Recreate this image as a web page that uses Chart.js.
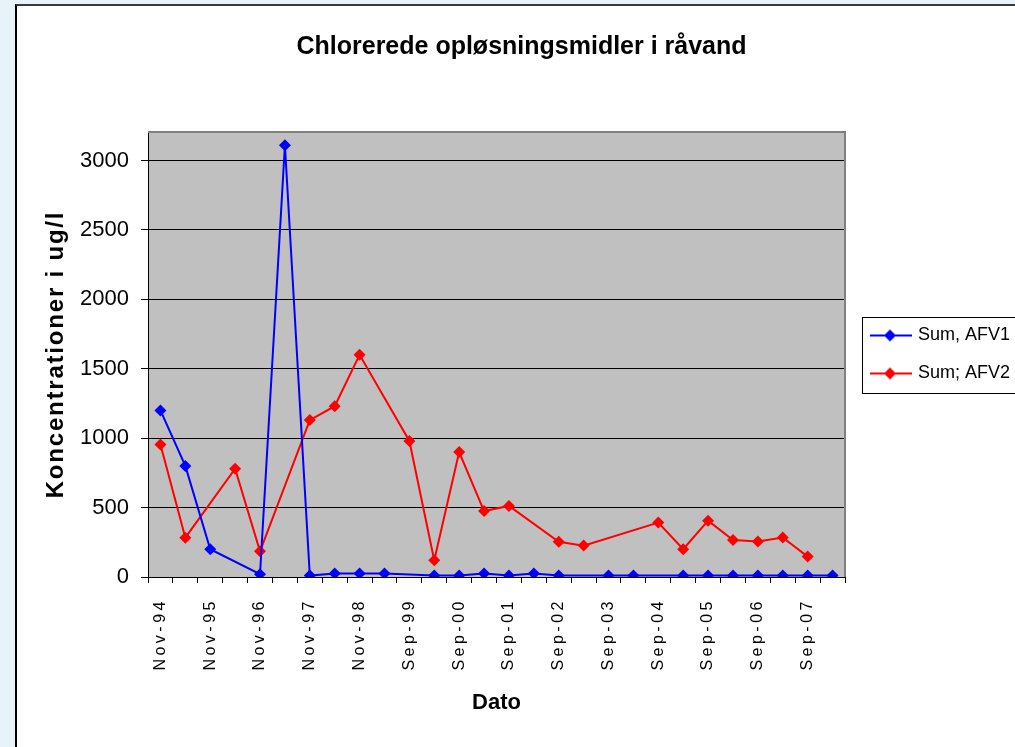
<!DOCTYPE html>
<html>
<head>
<meta charset="utf-8">
<script src="https://cdn.jsdelivr.net/npm/chart.js@4.4.1/dist/chart.umd.min.js"></script>
<style>
  html, body { margin: 0; padding: 0; background: #e8f2f9; }
  body { width: 1015px; height: 747px; overflow: hidden; position: relative; }
  .frame { position: absolute; left: 15px; top: 4px; width: 1010px; height: 760px; background: #fff;
           border-left: 2px solid #000; border-top: 2px solid #3a3a3a; }
  .wrap { position: absolute; left: 0; top: 0; width: 1015px; height: 747px; }
</style>
</head>
<body>
<div class="frame"></div>
<div class="wrap"><canvas id="chart"></canvas></div>
<script>
// sample dates (only every other one is labelled on the axis)
const labels = [
  'Nov-94', 'May-95', 'Nov-95', 'May-96', 'Nov-96', 'May-97', 'Nov-97', 'May-98',
  'Nov-98', 'Mar-99', 'Sep-99', 'Mar-00', 'Sep-00', 'Mar-01', 'Sep-01', 'Mar-02',
  'Sep-02', 'Mar-03', 'Sep-03', 'Mar-04', 'Sep-04', 'Mar-05', 'Sep-05', 'Mar-06',
  'Sep-06', 'Mar-07', 'Sep-07', 'Mar-08'
];

// Sum, AFV1 (ug/l)
const afv1 = [
  1200, 800, 200, null, 20, 3110, 10, 25,
  25, 25, null, 10, 10, 25, 10, 25,
  10, null, 10, 10, null, 10, 10, 10,
  10, 10, 10, 10
];

// Sum; AFV2 (ug/l)
const afv2 = [
  955, 283, null, 780, 185, null, 1130, 1230,
  1600, null, 980, 120, 900, 475, 512, null,
  254, 226, null, null, 392, 200, 406, 267,
  255, 284, 147, null
];

const yTicks = [0, 500, 1000, 1500, 2000, 2500, 3000];
const yMax = 3205;

const FONT = '"Liberation Sans", Arial, sans-serif';

function legendSymbol(color) {
  const c = document.createElement('canvas');
  c.width = 50;
  c.height = 16;
  const g = c.getContext('2d');
  g.strokeStyle = color;
  g.lineWidth = 2;
  g.beginPath();
  g.moveTo(8, 8);
  g.lineTo(50, 8);
  g.stroke();
  g.fillStyle = color;
  g.beginPath();
  g.moveTo(28, 2);
  g.lineTo(34, 8);
  g.lineTo(28, 14);
  g.lineTo(22, 8);
  g.closePath();
  g.fill();
  return c;
}

const colors = ['#0000ff', '#ff0000'];
const symbols = colors.map(legendSymbol);

// grey plot area with thin grey top/right border
const plotBackground = {
  id: 'plotBackground',
  beforeDraw(chart) {
    const {ctx, chartArea: a} = chart;
    ctx.save();
    ctx.fillStyle = '#c0c0c0';
    ctx.fillRect(a.left, a.top, a.right - a.left, a.bottom - a.top);
    ctx.restore();
  },
  beforeDatasetsDraw(chart) {
    const {ctx, chartArea: a} = chart;
    ctx.save();
    ctx.strokeStyle = '#808080';
    ctx.lineWidth = 2;
    ctx.beginPath();
    ctx.moveTo(a.left, a.top);
    ctx.lineTo(a.right, a.top);
    ctx.lineTo(a.right, a.bottom);
    ctx.stroke();
    ctx.restore();
  }
};

// spread-out text for the date labels and the y title
const letterSpacing = {
  id: 'letterSpacing',
  beforeDraw(chart) {
    const wrap = (obj, name, px) => {
      if (!obj || obj['_ls_' + name]) return;
      const orig = obj[name].bind(obj);
      obj[name] = (...args) => {
        const c = chart.ctx;
        const old = c.letterSpacing;
        c.letterSpacing = px;
        orig(...args);
        c.letterSpacing = old;
      };
      obj['_ls_' + name] = true;
    };
    wrap(chart.scales.x, 'drawLabels', '3.5px');
    wrap(chart.scales.y, 'drawTitle', '1.8px');
  }
};

// frame around the legend
const legendFrame = {
  id: 'legendFrame',
  afterDraw(chart) {
    const lg = chart.legend;
    const hb = lg.legendHitBoxes;
    if (!hb || !hb.length) return;
    const last = hb[hb.length - 1];
    const top = hb[0].top - 10;
    const bottom = last.top + last.height + 10;
    const ctx = chart.ctx;
    ctx.save();
    ctx.strokeStyle = '#000';
    ctx.lineWidth = 1;
    ctx.strokeRect(Math.round(lg.left + 17) + 0.5, Math.round(top) + 0.5, lg.width, Math.round(bottom - top));
    ctx.restore();
  }
};

new Chart(document.getElementById('chart'), {
  type: 'line',
  data: {
    labels,
    datasets: [
      {
        label: 'Sum, AFV1',
        data: afv1,
        borderColor: colors[0],
        backgroundColor: colors[0],
        borderWidth: 2,
        pointStyle: 'rectRot',
        pointRadius: 6,
        pointBorderWidth: 0,
        spanGaps: true,
        tension: 0
      },
      {
        label: 'Sum; AFV2',
        data: afv2,
        borderColor: colors[1],
        backgroundColor: colors[1],
        borderWidth: 2,
        pointStyle: 'rectRot',
        pointRadius: 6,
        pointBorderWidth: 0,
        spanGaps: true,
        tension: 0
      }
    ]
  },
  options: {
    responsive: true,
    maintainAspectRatio: false,
    animation: false,
    events: [],
    layout: { padding: { left: 28, right: 0, top: 0, bottom: 0 } },
    plugins: {
      title: {
        display: true,
        text: 'Chlorerede opløsningsmidler i råvand',
        color: '#000',
        font: { family: FONT, size: 25, weight: 'bold' },
        padding: { top: 32, bottom: 70 }
      },
      legend: {
        position: 'right',
        fullSize: false,
        maxWidth: 170,
        labels: {
          color: '#000',
          font: { family: FONT, size: 18 },
          usePointStyle: true,
          pointStyleWidth: 44,
          padding: 20,
          generateLabels(chart) {
            return Chart.defaults.plugins.legend.labels.generateLabels(chart)
              .map(item => ({ ...item, pointStyle: symbols[item.datasetIndex] }));
          }
        }
      },
      tooltip: { enabled: false }
    },
    scales: {
      x: {
        offset: true,
        afterFit(scale) { scale.height = 170; },
        ticks: {
          autoSkip: false,
          minRotation: 90,
          maxRotation: 90,
          padding: 15,
          color: '#000',
          font: { family: FONT, size: 16 },
          callback(value, index) {
            return index % 2 === 0 ? this.getLabelForValue(value) : '';
          }
        },
        grid: { offset: true, drawOnChartArea: false, color: '#000', tickLength: 6 },
        border: { color: '#000', width: 1 },
        title: {
          display: true,
          text: 'Dato',
          color: '#000',
          font: { family: FONT, size: 22, weight: 'bold' },
          padding: { top: 0, bottom: 31 }
        }
      },
      y: {
        min: 0,
        max: yMax,
        afterFit(scale) { scale.width = 120; },
        afterBuildTicks(scale) {
          scale.ticks = yTicks.map(v => ({ value: v }));
        },
        ticks: {
          autoSkip: false,
          padding: 12,
          color: '#000',
          font: { family: FONT, size: 22 },
          callback: value => String(value)
        },
        grid: { color: '#000', tickLength: 7 },
        border: { color: '#000', width: 1 },
        title: {
          display: true,
          text: 'Koncentrationer i ug/l',
          color: '#000',
          font: { family: FONT, size: 24, weight: 'bold' },
          padding: { top: 14, bottom: 0 }
        }
      }
    }
  },
  plugins: [plotBackground, letterSpacing, legendFrame]
});
</script>
</body>
</html>
